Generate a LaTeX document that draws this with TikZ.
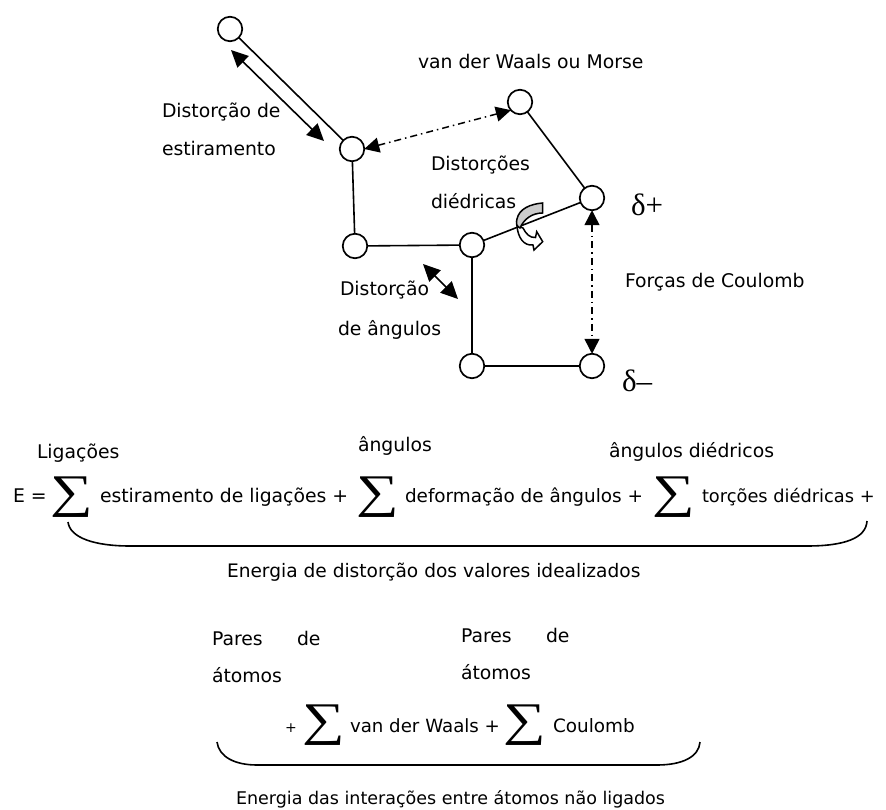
\documentclass[tikz,border=0pt]{standalone}
\usepackage{fontspec}
\usepackage{graphicx}
\setmainfont{DejaVu Sans}
\newfontfamily\deltafont{Liberation Serif}
\usetikzlibrary{arrows.meta}
\newcommand{\bigsig}{\scalebox{1.15}[0.9]{∑}}
\tikzset{
  x=1pt,y=-1pt,
  atom/.style={circle,draw=black,fill=white,line width=1.7pt,minimum size=24.5pt,inner sep=0pt,outer sep=0pt},
  bond/.style={line width=1.6pt,draw=black},
  dbl/.style={line width=1.6pt,{Triangle[length=17pt,width=16pt]}-{Triangle[length=17pt,width=16pt]}},
  dd/.style={line width=1.5pt,dash pattern=on 7pt off 4pt on 1.5pt off 4pt,{Triangle[length=15pt,width=15pt]}-{Triangle[length=15pt,width=15pt]}},
  lab/.style={anchor=base west,inner sep=0pt,outer sep=0pt,font=\fontsize{18.8}{22}\selectfont},
  sig/.style={anchor=center,inner sep=0pt,outer sep=0pt,font=\deltafont\fontsize{52}{52}\selectfont},
  del/.style={anchor=base west,inner sep=0pt,outer sep=0pt,font=\deltafont\fontsize{31}{32}\selectfont},
  brace/.style={line width=1.6pt,draw=black}
}
\begin{document}
\begin{tikzpicture}
\useasboundingbox (0,0) rectangle (886,810);
\coordinate (pa) at (230,29);
\coordinate (pb) at (352,149);
\coordinate (pc) at (520,102);
\coordinate (pd) at (592,198);
\coordinate (pe) at (355,246);
\coordinate (pf) at (472,245);
\coordinate (pg) at (472,366);
\coordinate (ph) at (592,366);
% twist, white part under the bond
\filldraw[fill=white,draw=black,line width=1.5pt]
  (517,226) .. controls (518,238) and (524,246) .. (533,245)
  -- (534,250) -- (542.7,241.7) -- (536.7,231.7) -- (535.5,237.5)
  .. controls (530,238) and (526,234) .. (523,228) -- cycle;
\draw[bond] (pa)--(pb) (pb)--(pe) (pe)--(pf) (pf)--(pd) (pd)--(pc) (pf)--(pg) (pg)--(ph);
\filldraw[fill=gray!40,draw=black,line width=1.5pt]
  (542.7,203) -- (542.7,213) .. controls (532,213) and (524,219) .. (520,228)
  .. controls (516,226) and (516,223) .. (517,219) .. controls (519,209) and (530,204) .. cycle;
\node[atom] (a) at (pa) {};
\node[atom] (b) at (pb) {};
\node[atom] (c) at (pc) {};
\node[atom] (d) at (pd) {};
\node[atom] (e) at (pe) {};
\node[atom] (f) at (pf) {};
\node[atom] (g) at (pg) {};
\node[atom] (h) at (ph) {};
% arrows
\coordinate (s1) at (231,50);
\coordinate (s2) at (324,141);
\draw[dbl] (s1)--(s2);
\coordinate (t1) at (423,264);
\coordinate (t2) at (458,299);
\draw[dbl] (t1)--(t2);
\draw[dd] (b.east)--(c.222);
\draw[dd] (d.south)--(h.north);
% labels
\node[lab] (l1) at (418,69) {van der Waals ou Morse};
\node[lab] (l2) at (162,118) {Distorção de};
\node[lab] (l3) at (162,156) {estiramento};
\node[lab] (l4) at (431,171) {Distorções};
\node[lab] (l5) at (431,209) {diédricas};
\node[lab] (l6) at (340,296) {Distorção};
\node[lab] (l7) at (338,335) {de ângulos};
\node[lab] (l8) at (625,288) {Forças de Coulomb};
\node[del] (dp) at (631,216) {δ+};
\node[del] (dm) at (622,391) {δ–};
% first equation
\node[lab] (q1) at (37,458) {Ligações};
\node[lab] (q2) at (358,451) {ângulos};
\node[lab] (q3) at (609,457) {ângulos diédricos};
\node[lab] (e0) at (13,502) {E =};
\node[sig] (s1a) at (71.5,497) {\bigsig};
\node[lab] (e1) at (100,502) {estiramento de ligações +};
\node[sig] (s1b) at (378,497) {\bigsig};
\node[lab,font=\fontsize{18.4}{22}\selectfont] (e2) at (405,502) {deformação de ângulos +};
\node[sig] (s1c) at (674,497) {\bigsig};
\node[lab,font=\fontsize{17.8}{22}\selectfont] (e3) at (702,502) {torções diédricas +};
\draw[brace] (68,522) .. controls (70,538) and (95,546) .. (130,546) -- (807,546) .. controls (845,546) and (866,538) .. (867,521);
\node[lab,font=\fontsize{18.6}{22}\selectfont] (b1) at (227,577) {Energia de distorção dos valores idealizados};
% second equation
\node[lab] (p1) at (212,645) {Pares};
\node[lab] (p2) at (297,645) {de};
\node[lab] (p3) at (212,682) {átomos};
\node[lab] (p4) at (461,642) {Pares};
\node[lab] (p5) at (546,642) {de};
\node[lab] (p6) at (461,679) {átomos};
\node[lab,font=\fontsize{14}{16}\selectfont] (f0) at (285,732) {+};
\node[sig] (s2a) at (323.5,725) {\bigsig};
\node[lab,font=\fontsize{18.2}{22}\selectfont] (f1) at (350,732) {van der Waals +};
\node[sig] (s2b) at (525,725) {\bigsig};
\node[lab,font=\fontsize{18.4}{22}\selectfont] (f2) at (553,732) {Coulomb};
\draw[brace] (217,742) .. controls (219,757) and (235,765) .. (257,765) -- (657,765) .. controls (682,765) and (699,757) .. (700,742);
\node[lab,font=\fontsize{17.5}{22}\selectfont] (b2) at (236,804) {Energia das interações entre átomos não ligados};
\end{tikzpicture}
\end{document}
